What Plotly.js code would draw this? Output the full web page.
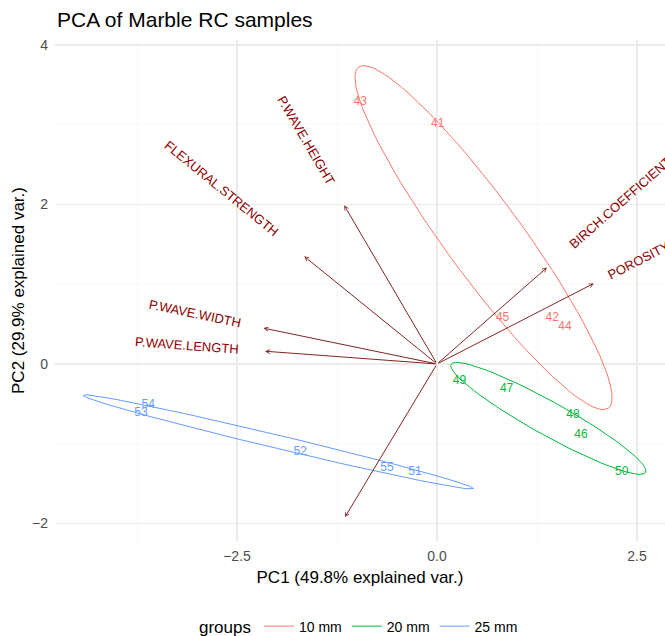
<!DOCTYPE html>
<html>
<head>
<meta charset="utf-8">
<script src="https://cdn.plot.ly/plotly-3.0.1.min.js"></script>
<style>html,body{margin:0;padding:0;background:#fff;}#chart{width:665px;height:636px;}</style>
</head>
<body>
<div id="chart"></div>
<script>
// ---- data ----
const groupNames = ['10 mm', '20 mm', '25 mm'];
const groupColors = ['#F8766D', '#00BA38', '#619CFF'];
const sampleIds = ['41','42','43','44','45','46','47','48','49','50','51','52','53','54','55'];
const sampleGroup = ['10 mm','10 mm','10 mm','10 mm','10 mm','20 mm','20 mm','20 mm','20 mm','20 mm','25 mm','25 mm','25 mm','25 mm','25 mm'];
const samplePC1 = [0.01, 1.44, -0.96, 1.60, 0.82, 1.80, 0.87, 1.70, 0.28, 2.31, -0.275, -1.71, -3.70, -3.61, -0.625];
const samplePC2 = [3.01, 0.58, 3.28, 0.47, 0.58, -0.89, -0.31, -0.64, -0.21, -1.36, -1.36, -1.10, -0.62, -0.51, -1.30];

const varNames = ['P.WAVE.HEIGHT','FLEXURAL.STRENGTH','P.WAVE.WIDTH','P.WAVE.LENGTH','BIRCH.COEFFICIENT','POROSITY',''];
const varPC1 = [-1.16, -1.66, -2.17, -2.15, 1.375, 1.96, -1.15];
const varPC2 = [1.99, 1.35, 0.45, 0.16, 1.21, 1.01, -1.92];

const xTitle = 'PC1 (49.8% explained var.)';
const yTitle = 'PC2 (29.9% explained var.)';
const chartTitle = 'PCA of Marble RC samples';
const legendTitle = 'groups';
const ellipseProb = 0.68;

// ---- build traces ----
const FONT = 'Liberation Sans, Arial, sans-serif';
const ed = Math.sqrt(-2 * Math.log(1 - ellipseProb)); // sqrt(qchisq(p, 2))

function ellipseFor(xs, ys) {
  const n = xs.length;
  const mx = xs.reduce((a, b) => a + b, 0) / n;
  const my = ys.reduce((a, b) => a + b, 0) / n;
  let sxx = 0, syy = 0, sxy = 0;
  for (let i = 0; i < n; i++) {
    sxx += (xs[i] - mx) ** 2; syy += (ys[i] - my) ** 2; sxy += (xs[i] - mx) * (ys[i] - my);
  }
  sxx /= (n - 1); syy /= (n - 1); sxy /= (n - 1);
  const a = Math.sqrt(sxx), b = sxy / a, c = Math.sqrt(syy - b * b);
  const ex = [], ey = [];
  for (let k = 0; k <= 100; k++) {
    const t = -Math.PI + 2 * Math.PI * k / 100;
    const ct = Math.cos(t), st = Math.sin(t);
    ex.push(mx + ed * ct * a);
    ey.push(my + ed * (ct * b + st * c));
  }
  return [ex, ey];
}

const traces = groupNames.map((g, gi) => {
  const xs = [], ys = [], ids = [];
  sampleGroup.forEach((sg, i) => { if (sg === g) { xs.push(samplePC1[i]); ys.push(samplePC2[i]); ids.push(sampleIds[i]); } });
  const [ex, ey] = ellipseFor(xs, ys);
  const X = ex.slice(), Y = ey.slice(), T = ex.map(() => '');
  xs.forEach((v, i) => { X.push(null, v); Y.push(null, ys[i]); T.push('', ids[i]); });
  return {
    type: 'scatter', mode: 'lines+text', name: g,
    x: X, y: Y, text: T, textposition: 'middle center',
    textfont: {family: FONT, size: 12, color: groupColors[gi]},
    line: {color: groupColors[gi], width: 1},
    connectgaps: false, hoverinfo: 'skip', cliponaxis: false
  };
});

// ---- arrows and variable labels ----
const LABEL_SIZE = 13;
const canvas = document.createElement('canvas');
const ctx = canvas.getContext('2d');
ctx.font = LABEL_SIZE + 'px "Liberation Sans"';
const annotations = [];
varNames.forEach((nm, i) => {
  const vx = varPC1[i], vy = varPC2[i];
  annotations.push({
    x: vx, y: vy, ax: 0, ay: 0, xref: 'x', yref: 'y', axref: 'x', ayref: 'y',
    text: '', showarrow: true, arrowhead: 5, arrowsize: 0.8, arrowwidth: 1,
    arrowcolor: '#832424', standoff: 0, startstandoff: 0
  });
  if (nm) {
    const len = Math.hypot(vx, vy);
    const ux = vx / len, uy = vy / len;
    const w = ctx.measureText(nm).width;
    const off = 0.75 * w;
    annotations.push({
      x: vx, y: vy, xref: 'x', yref: 'y', text: nm, showarrow: false,
      xanchor: 'center', yanchor: 'middle',
      textangle: -Math.atan(vy / vx) * 180 / Math.PI,
      xshift: off * ux, yshift: off * uy,
      font: {family: FONT, size: LABEL_SIZE, color: '#8B0000'}
    });
  }
});

const layout = {
  width: 665, height: 636,
  margin: {l: 55, r: 0, t: 40, b: 95},
  paper_bgcolor: '#fff', plot_bgcolor: '#fff',
  font: {family: FONT, color: '#000'},
  title: {text: chartTitle, x: 57 / 665, xanchor: 'left', xref: 'container',
          y: 1 - 20 / 636, yref: 'container', yanchor: 'middle',
          font: {family: FONT, size: 21, color: '#000'}},
  xaxis: {
    range: [-4.775, 2.85], tick0: 0, dtick: 2.5, tickformat: '.1f', automargin: false,
    showgrid: true, gridcolor: '#EBEBEB', gridwidth: 1.1, zeroline: false, showline: false,
    ticks: '', ticklabelstandoff: 5,
    tickfont: {family: FONT, size: 14, color: '#4D4D4D'},
    minor: {dtick: 1.25, tick0: 0, showgrid: true, gridcolor: '#F3F3F3', gridwidth: 0.6},
    title: {text: xTitle, font: {family: FONT, size: 17, color: '#000'}, standoff: 8}
  },
  yaxis: {
    range: [-2.22, 4.063], tick0: 0, dtick: 2, automargin: false,
    showgrid: true, gridcolor: '#EBEBEB', gridwidth: 1.1, zeroline: false, showline: false,
    ticks: '', ticklabelstandoff: 6,
    tickfont: {family: FONT, size: 14, color: '#4D4D4D'},
    minor: {dtick: 1, tick0: 0, showgrid: true, gridcolor: '#F3F3F3', gridwidth: 0.6},
    title: {text: yTitle, font: {family: FONT, size: 17, color: '#000'}, standoff: 3}
  },
  showlegend: true,
  legend: {
    orientation: 'h', x: 0.5, xanchor: 'center', xref: 'paper',
    y: (636 - 627) / 636, yref: 'container', yanchor: 'middle',
    title: {text: legendTitle, font: {family: FONT, size: 17, color: '#000'}, side: 'left'},
    font: {family: FONT, size: 14, color: '#000'}
  },
  annotations: annotations
};

Plotly.newPlot('chart', traces, layout, {displayModeBar: false, staticPlot: true});
</script>
</body>
</html>
